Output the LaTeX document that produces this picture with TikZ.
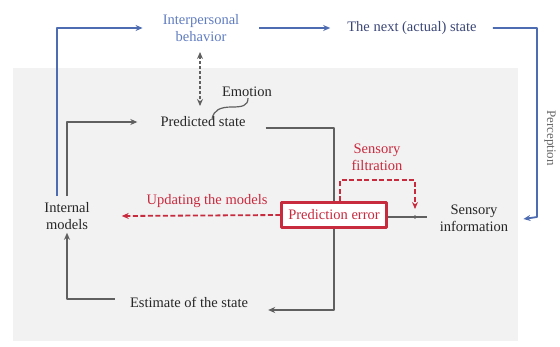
\documentclass[tikz,border=0pt]{standalone}
\usepackage{fontspec}
\setmainfont{Liberation Serif}
\usetikzlibrary{arrows.meta}
\definecolor{bluel}{RGB}{78,108,178}
\definecolor{bluet}{RGB}{96,124,192}
\definecolor{navyt}{RGB}{58,70,118}
\definecolor{redl}{RGB}{200,42,62}
\definecolor{grayl}{RGB}{96,96,96}
\definecolor{bgc}{RGB}{242,242,242}
\begin{document}
\begin{tikzpicture}[x=1pt,y=-1pt,line join=round,>={Stealth[length=7pt,width=6pt]},font=\fontsize{14.5}{17}\selectfont]
	\tikzset{txt/.style={align=center,inner sep=3pt,text=black!85},
		bluearrow/.style={draw=bluel,line width=1.8pt,->},
		grayarrow/.style={draw=grayl,line width=1.7pt},
		reddash/.style={draw=redl,line width=1.8pt,dash pattern=on 5pt off 2.5pt,->}}
	\useasboundingbox (0,0) rectangle (560,346);
	\fill[bgc] (13,68) rectangle (518,341);
	% nodes
	\node[txt,text=bluet] (inter) at (201,28) {Interpersonal\\behavior};
	\node[txt,text=navyt] (next) at (412,28) {The next (actual) state};
	\node[txt] (emo) at (247,92) {Emotion};
	\node[txt] (pred) at (203,122) {Predicted state};
	\node[txt] (intm) at (67,216) {Internal\\models};
	\node[txt] (est) at (189,302) {Estimate of the state};
	\node[txt] (sens) at (474,218) {Sensory\\information};
	\node[txt,text=redl] (filt) at (377,157) {Sensory\\filtration};
	\node[txt,text=redl] (upd) at (207,201) {Updating the models};
	\node[txt,rotate=-90,text=black!60,font=\fontsize{13}{15}\selectfont] (perc) at (550,138) {Perception};
	\node[draw=redl,line width=2.4pt,fill=white,text=redl,minimum width=105pt,minimum height=25pt,inner sep=2pt] (perr) at (334,215) {Prediction error};
	\coordinate (pc) at (537,217);
	\coordinate (ft) at (415,217);
	% blue loop
	\draw[bluearrow] ([xshift=-10pt,yshift=3pt]intm.north) |- ([xshift=-17pt]inter.west);
	\draw[bluearrow] ([xshift=17pt]inter.east) -- ([xshift=-14pt]next.west);
	\draw[bluearrow] ([xshift=13pt]next.east) -| (pc) -- ([xshift=12pt,yshift=-1pt]sens.east);
	% gray loop
	\draw[grayarrow,->] ([yshift=3pt]intm.north) |- ([xshift=-20pt]pred.west);
	\draw[grayarrow] ([xshift=17pt,yshift=-6pt]pred.east) -| (perr.north);
	\draw[grayarrow,->] (perr.south) |- ([xshift=17pt,yshift=-8pt]est.east);
	\draw[grayarrow,->] ([xshift=-12pt,yshift=3pt]est.west) -| (intm.south);
	\draw[grayarrow,dash pattern=on 3pt off 2pt,<->] (200,52) -- (200,106);
	\draw[grayarrow,line width=1.2pt] ([xshift=1pt,yshift=2pt]emo.south) .. controls (248,106) and (242,107) .. (232,107) .. controls (220,107) and (214,110) .. ([xshift=9pt,yshift=-5pt]pred.north);
	% prediction error
	\draw[grayarrow] (perr.east |- ft) -- ([xshift=-10pt]sens.west |- ft);
	\draw[reddash] ([xshift=6pt]perr.north) -- ++(0,-21) -| ([yshift=8pt]ft);
	\fill[grayl] (ft) circle (1.8pt);
	\draw[reddash] (perr.west) -- ([xshift=29pt]intm.east);
\end{tikzpicture}
\end{document}
